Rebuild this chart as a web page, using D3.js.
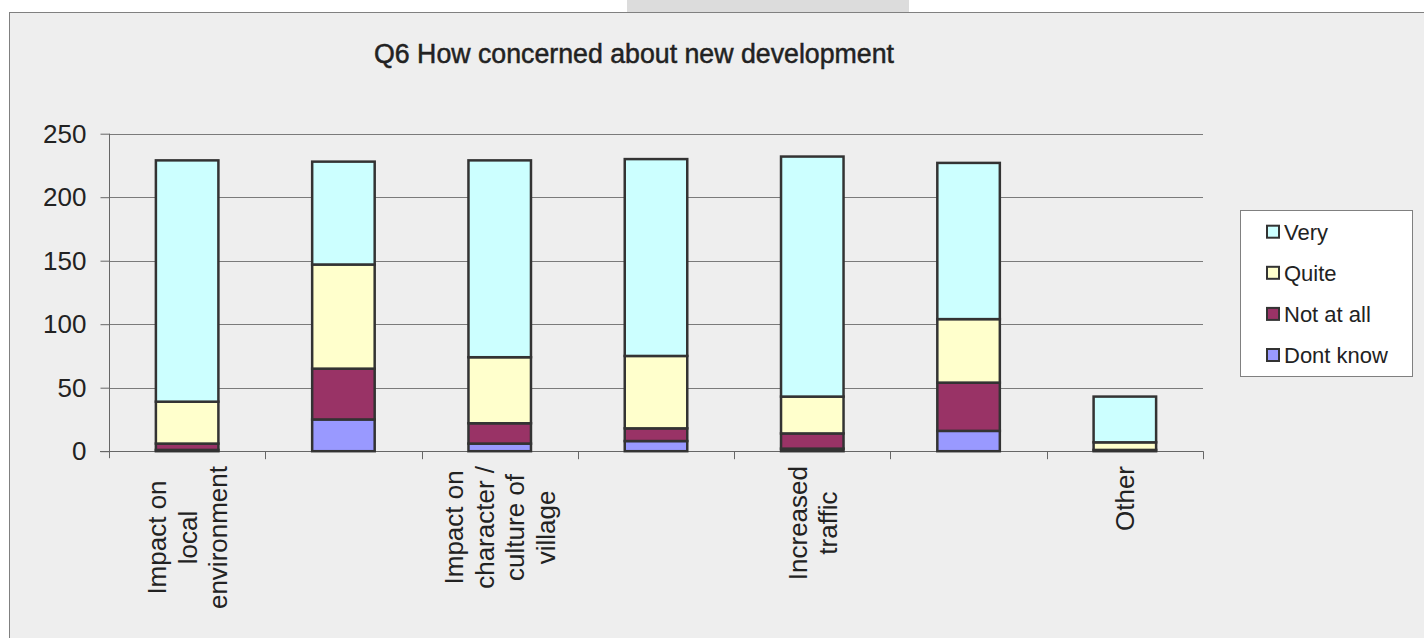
<!DOCTYPE html>
<html>
<head>
<meta charset="utf-8">
<script src="https://cdn.jsdelivr.net/npm/d3@7"></script>
<style>
  html, body { margin: 0; padding: 0; background: #ffffff; }
  svg { display: block; }
  text { font-family: "Liberation Sans", Arial, sans-serif; fill: #222; }
</style>
</head>
<body>
<svg id="chart" width="1424" height="638"></svg>
<script>
// ---- data ----
const title = "Q6 How concerned about new development";
// Only every other category label is shown in the original chart; hidden ones are unknown.
const categories = [
  "Impact on\nlocal\nenvironment",
  "",
  "Impact on\ncharacter /\nculture of\nvillage",
  "",
  "Increased\ntraffic",
  "",
  "Other"
];
const seriesNames = ["Dont know", "Not at all", "Quite", "Very"];
const dontKnow = [1, 25, 6, 8, 2, 16, 0];
const notAtAll = [5, 40, 16, 10, 12, 38, 1];
const quite    = [33, 82, 52, 57, 29, 50, 6];
const very     = [190, 81, 155, 155, 189, 123, 36];
const yTicks = [0, 50, 100, 150, 200, 250];
const colors = { "Very": "#CCFFFF", "Quite": "#FFFFCC", "Not at all": "#993366", "Dont know": "#9999FF" };
const legendOrder = ["Very", "Quite", "Not at all", "Dont know"];

// ---- build ----
(function () {
const svg = d3.select("#chart");
const values = { "Dont know": dontKnow, "Not at all": notAtAll, "Quite": quite, "Very": very };
const table = categories.map((c, i) => {
  const row = { idx: i, label: c };
  seriesNames.forEach(s => row[s] = values[s][i]);
  return row;
});
const stack = d3.stack().keys(seriesNames)(table);

// top tab and frame
svg.append("rect").attr("x", 627).attr("y", 0).attr("width", 282).attr("height", 12).attr("fill", "#dcdcdc");
svg.append("rect").attr("x", 9.5).attr("y", 12.5).attr("width", 1430).attr("height", 640)
  .attr("fill", "#eeeeee").attr("stroke", "#808080").attr("stroke-width", 1);

const pL = 109, pR = 1203, pT = 133.7, pB = 451.2;
const x = d3.scaleBand().domain(d3.range(categories.length)).range([pL, pR]).paddingInner(0).paddingOuter(0);
const y = d3.scaleLinear().domain([0, 250]).range([pB, pT]);

// gridlines
svg.append("g").selectAll("line").data(yTicks.filter(t => t > 0)).join("line")
  .attr("x1", pL).attr("x2", pR)
  .attr("y1", d => Math.round(y(d)) + 0.5).attr("y2", d => Math.round(y(d)) + 0.5)
  .attr("stroke", "#7a7a7a").attr("stroke-width", 1);

// y axis
const yAxis = d3.axisLeft(y).tickValues(yTicks).tickSize(9).tickPadding(14);
const gy = svg.append("g").attr("transform", `translate(${pL + 0.5},0)`).call(yAxis);
gy.select(".domain").remove();
gy.selectAll(".tick line").attr("stroke", "#666");
gy.selectAll(".tick text").attr("font-size", 26).attr("fill", "#222")
  .attr("font-family", '"Liberation Sans", Arial, sans-serif');
svg.append("line").attr("x1", pL + 0.5).attr("x2", pL + 0.5).attr("y1", pT).attr("y2", pB + 7)
  .attr("stroke", "#666");

// x axis
svg.append("line").attr("x1", pL - 9).attr("x2", pR).attr("y1", Math.round(pB) + 0.5).attr("y2", Math.round(pB) + 0.5)
  .attr("stroke", "#666");
const bounds = d3.range(categories.length + 1).map(i => pL + i * x.bandwidth());
svg.append("g").selectAll("line").data(bounds.slice(1)).join("line")
  .attr("x1", d => Math.round(d) + 0.5).attr("x2", d => Math.round(d) + 0.5)
  .attr("y1", pB).attr("y2", pB + 8).attr("stroke", "#666");

// bars
const bw = x.bandwidth() * 0.4;
svg.append("g").selectAll("g").data(stack).join("g")
  .attr("fill", d => colors[d.key])
  .selectAll("rect").data(d => d.filter(p => p[1] - p[0] > 0)).join("rect")
  .attr("x", d => x(d.data.idx) + (x.bandwidth() - bw) / 2)
  .attr("width", bw)
  .attr("y", d => y(d[1]))
  .attr("height", d => y(d[0]) - y(d[1]))
  .attr("stroke", "#333").attr("stroke-width", 2.5);

// category labels (rotated)
const lineGap = 30.5;
categories.forEach((c, i) => {
  if (!c) return;
  const lines = c.split("\n");
  const cx = x(i) + x.bandwidth() / 2;
  const g = svg.append("g");
  const t = g.append("text").attr("font-size", 26).attr("text-anchor", "middle").attr("fill", "#222");
  lines.forEach((ln, k) => {
    t.append("tspan").attr("x", 0).attr("y", (k - (lines.length - 1) / 2) * lineGap + 9.5).text(ln);
  });
  let maxW = 0;
  t.selectAll("tspan").each(function () { maxW = Math.max(maxW, this.getComputedTextLength()); });
  const cy = 466 + maxW / 2;
  g.attr("transform", `translate(${cx},${cy}) rotate(-90)`);
});

// title
svg.append("text").attr("x", 374).attr("y", 63)
  .attr("font-size", 27).attr("font-weight", "normal").attr("fill", "#222")
  .attr("stroke", "#222").attr("stroke-width", 0.5)
  .attr("textLength", 520).attr("lengthAdjust", "spacingAndGlyphs")
  .text(title);

// legend
const lg = svg.append("g");
lg.append("rect").attr("x", 1240.5).attr("y", 210.5).attr("width", 172).attr("height", 166)
  .attr("fill", "#ffffff").attr("stroke", "#808080");
legendOrder.forEach((s, k) => {
  const cyL = 231.7 + k * 41.1;
  lg.append("rect").attr("x", 1267).attr("y", cyL - 6).attr("width", 12).attr("height", 12)
    .attr("fill", colors[s]).attr("stroke", "#333").attr("stroke-width", 2);
  lg.append("text").attr("x", 1284).attr("y", cyL + 8).attr("font-size", 22).attr("fill", "#222").text(s);
});
})();
</script>
</body>
</html>
